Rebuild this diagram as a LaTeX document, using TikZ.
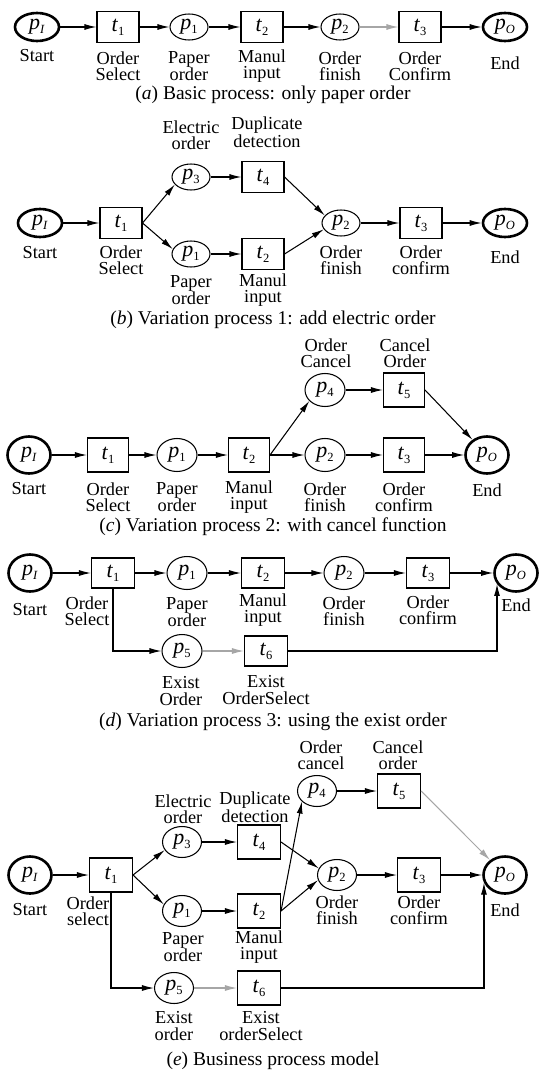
\documentclass[tikz,border=0pt]{standalone}
\usepackage{fontspec}
\setmainfont{Liberation Serif}
\usetikzlibrary{shapes.geometric,arrows.meta}
\newcommand\nl[2]{\textit{#1}\raisebox{-0.4ex}{\fontsize{12.5}{12.5}\selectfont #2}}
\begin{document}
\begin{tikzpicture}[x=1pt,y=-1pt,
  every node/.style={inner sep=0pt},
  nodefont/.style={font=\fontsize{22}{22}\selectfont},
  plA/.style={ellipse,draw,line width=1.05pt,minimum width=38pt,minimum height=26pt,nodefont},
  stA/.style={ellipse,draw,line width=2.6pt,minimum width=44pt,minimum height=28pt,nodefont},
  trA/.style={rectangle,draw,line width=1.05pt,minimum width=42pt,minimum height=31pt,nodefont},
  plC/.style={ellipse,draw,line width=1.05pt,minimum width=40pt,minimum height=33pt,nodefont},
  stC/.style={ellipse,draw,line width=2.6pt,minimum width=43pt,minimum height=37pt,nodefont},
  trC/.style={rectangle,draw,line width=1.05pt,minimum width=41pt,minimum height=34pt,nodefont},
  trD/.style={rectangle,draw,line width=1.05pt,minimum width=43pt,minimum height=30pt,nodefont},
  plE/.style={ellipse,draw,line width=1.05pt,minimum width=39pt,minimum height=31pt,nodefont},
  trE/.style={rectangle,draw,line width=1.05pt,minimum width=43pt,minimum height=34pt,nodefont},
  lab/.style={align=center,font=\fontsize{18.3}{16.5}\selectfont},
  capt/.style={font=\fontsize{19.5}{20}\selectfont},
  arr/.style={line width=1.05pt,-{Latex[length=12pt,width=6pt]}},
  garr/.style={arr,draw=black!35}
]
\path[use as bounding box] (0,0) rectangle (538,1070);

% ---------------- (a)
\node[stA] (aPI) at (37,27) {\nl{p}{\textit{I}}};
\node[trA] (aT1) at (118,27) {\nl{t}{1}};
\node[plA] (aP1) at (189,27) {\nl{p}{1}};
\node[trA] (aT2) at (262,27) {\nl{t}{2}};
\node[plA] (aP2) at (340,27) {\nl{p}{2}};
\node[trA] (aT3) at (420,27) {\nl{t}{3}};
\node[stA] (aPO) at (505,27) {\nl{p}{\textit{O}}};
\node[lab] (aLs) at (37,56) {Start};
\node[lab] (aL1) at (118,66) {Order\\Select};
\node[lab] (aL2) at (189,66) {Paper\\order};
\node[lab] (aL3) at (262,66) {Manul\\input};
\node[lab] (aL4) at (340,66) {Order\\finish};
\node[lab] (aL5) at (420,66) {Order\\Confirm};
\node[lab] (aLe) at (505,63) {End};
\node[capt] (aCap) at (273,95) {(\textit{a}) Basic process: only paper order};
\draw[arr] (aPI) -- (aT1);
\draw[arr] (aT1) -- (aP1);
\draw[arr] (aP1) -- (aT2);
\draw[arr] (aT2) -- (aP2);
\draw[garr] (aP2) -- (aT3);
\draw[arr] (aT3) -- (aPO);

% ---------------- (b)
\node[stA] (bPI) at (40,223) {\nl{p}{\textit{I}}};
\node[trA] (bT1) at (121,223) {\nl{t}{1}};
\node[plA] (bP3) at (191,177) {\nl{p}{3}};
\node[plA] (bP1) at (191,254) {\nl{p}{1}};
\node[trA] (bT4) at (263,177) {\nl{t}{4}};
\node[trA] (bT2) at (263,254) {\nl{t}{2}};
\node[plA] (bP2) at (341,223) {\nl{p}{2}};
\node[trA] (bT3) at (421,223) {\nl{t}{3}};
\node[stA] (bPO) at (505,223) {\nl{p}{\textit{O}}};
\node[lab] (bLa) at (191,135) {Electric\\order};
\node[lab] (bLb) at (267,132) {Duplicate\\detection};
\node[lab] (bLs) at (40,253) {Start};
\node[lab] (bL1) at (121,260) {Order\\Select};
\node[lab] (bL2) at (191,290) {Paper\\order};
\node[lab] (bL3) at (263,290) {Manul\\input};
\node[lab] (bL4) at (341,260) {Order\\finish};
\node[lab] (bL5) at (421,260) {Order\\confirm};
\node[lab] (bLe) at (505,257) {End};
\node[capt] (bCap) at (273,320) {(\textit{b}) Variation process 1: add electric order};
\draw[arr] (bPI) -- (bT1);
\draw[arr] (bT1.east) -- (bP3.205);
\draw[arr] (bT1.east) -- (bP1.165);
\draw[arr] (bP3) -- (bT4);
\draw[arr] (bP1) -- (bT2);
\draw[arr] (bT4.east) -- (bP2.155);
\draw[arr] (bT2.east) -- (bP2.200);
\draw[arr] (bP2) -- (bT3);
\draw[arr] (bT3) -- (bPO);

% ---------------- (c)
\node[stC] (cPI) at (29,455) {\nl{p}{\textit{I}}};
\node[trC] (cT1) at (108,455) {\nl{t}{1}};
\node[plC] (cP1) at (177,455) {\nl{p}{1}};
\node[trC] (cT2) at (249,455) {\nl{t}{2}};
\node[plC] (cP2) at (325,455) {\nl{p}{2}};
\node[trC] (cT3) at (404,455) {\nl{t}{3}};
\node[stC] (cPO) at (487,455) {\nl{p}{\textit{O}}};
\node[plC] (cP4) at (325,390) {\nl{p}{4}};
\node[trC] (cT5) at (404,390) {\nl{t}{5}};
\node[lab] (cLa) at (326,353) {Order\\Cancel};
\node[lab] (cLb) at (405,353) {Cancel\\Order};
\node[lab] (cLs) at (29,489) {Start};
\node[lab] (cL1) at (108,497) {Order\\Select};
\node[lab] (cL2) at (177,497) {Paper\\order};
\node[lab] (cL3) at (249,497) {Manul\\input};
\node[lab] (cL4) at (325,497) {Order\\finish};
\node[lab] (cL5) at (404,497) {Order\\confirm};
\node[lab] (cLe) at (487,490) {End};
\node[capt] (cCap) at (273,527) {(\textit{c}) Variation process 2: with cancel function};
\draw[arr] (cPI) -- (cT1);
\draw[arr] (cT1) -- (cP1);
\draw[arr] (cP1) -- (cT2);
\draw[arr] (cT2) -- (cP2);
\draw[arr] (cT2.east) -- (cP4.215);
\draw[arr] (cP4) -- (cT5);
\draw[arr] (cT5.east) -- (cPO);
\draw[arr] (cP2) -- (cT3);
\draw[arr] (cT3) -- (cPO);

% ---------------- (d)
\node[stC] (dPI) at (30,573) {\nl{p}{\textit{I}}};
\node[trD] (dT1) at (113,573) {\nl{t}{1}};
\node[plC] (dP1) at (187,573) {\nl{p}{1}};
\node[trD] (dT2) at (263,573) {\nl{t}{2}};
\node[plC] (dP2) at (344,573) {\nl{p}{2}};
\node[trD] (dT3) at (428,573) {\nl{t}{3}};
\node[stC] (dPO) at (516,573) {\nl{p}{\textit{O}}};
\node[plC] (dP5) at (182,651) {\nl{p}{5}};
\node[trD] (dT6) at (266,651) {\nl{t}{6}};
\node[lab] (dLs) at (30,610) {Start};
\node[lab] (dL1) at (87,611) {Order\\Select};
\node[lab] (dL2) at (187,612) {Paper\\order};
\node[lab] (dL3) at (263,610) {Manul\\input};
\node[lab] (dL4) at (344,611) {Order\\finish};
\node[lab] (dL5) at (428,610) {Order\\confirm};
\node[lab] (dLe) at (516,605) {End};
\node[lab] (dL6) at (181,691) {Exist\\Order};
\node[lab] (dL7) at (266,690) {Exist\\OrderSelect};
\node[capt] (dCap) at (273,722) {(\textit{d}) Variation process 3: using the exist order};
\draw[arr] (dPI) -- (dT1);
\draw[arr] (dT1) -- (dP1);
\draw[arr] (dP1) -- (dT2);
\draw[arr] (dT2) -- (dP2);
\draw[arr] (dP2) -- (dT3);
\draw[arr] (dT3) -- (dPO);
\draw[arr] (dT1.south) |- (dP5.west);
\draw[garr] (dP5) -- (dT6);
\draw[arr] (dT6.east) -| (dPO.210);

% ---------------- (e)
\node[stC] (ePI) at (30,875) {\nl{p}{\textit{I}}};
\node[trE] (eT1) at (111,875) {\nl{t}{1}};
\node[plE] (eP3) at (182,842) {\nl{p}{3}};
\node[plE] (eP1) at (182,911) {\nl{p}{1}};
\node[plE] (eP5) at (174,988) {\nl{p}{5}};
\node[trE] (eT4) at (259,842) {\nl{t}{4}};
\node[trE] (eT2) at (259,911) {\nl{t}{2}};
\node[trE] (eT6) at (259,988) {\nl{t}{6}};
\node[plE] (eP4) at (317,791) {\nl{p}{4}};
\node[trE] (eT5) at (399,791) {\nl{t}{5}};
\node[plE] (eP2) at (337,875) {\nl{p}{2}};
\node[trE] (eT3) at (419,875) {\nl{t}{3}};
\node[stC] (ePO) at (505,875) {\nl{p}{\textit{O}}};
\node[lab] (eLa) at (321,755) {Order\\cancel};
\node[lab] (eLb) at (398,755) {Cancel\\order};
\node[lab] (eLc) at (183,809) {Electric\\order};
\node[lab] (eLd) at (255,807) {Duplicate\\detection};
\node[lab] (eLs) at (30,910) {Start};
\node[lab] (eL1) at (88,911) {Order\\select};
\node[lab] (eL4) at (337,910) {Order\\finish};
\node[lab] (eL5) at (419,910) {Order\\confirm};
\node[lab] (eLe) at (505,910) {End};
\node[lab] (eL2) at (183,947) {Paper\\order};
\node[lab] (eL3) at (259,947) {Manul\\input};
\node[lab] (eL6) at (174,1026) {Exist\\order};
\node[lab] (eL7) at (261,1026) {Exist\\orderSelect};
\node[capt] (eCap) at (273,1061) {(\textit{e}) Business process model};
\draw[arr] (ePI) -- (eT1);
\draw[arr] (eT1.east) -- (eP3.205);
\draw[arr] (eT1.east) -- (eP1.160);
\draw[arr] (eP3) -- (eT4);
\draw[arr] (eP1) -- (eT2);
\draw[arr] (eT4.east) -- (eP2.160);
\draw[arr] (eT2.east) -- (eP2.195);
\draw[arr] (eT2.east) -- (eP4.215);
\draw[arr] (eP4) -- (eT5);
\draw[garr] (eT5.east) -- (ePO);
\draw[arr] (eP2) -- (eT3);
\draw[arr] (eT3) -- (ePO);
\draw[arr] (eT1.south) |- (eP5.west);
\draw[garr] (eP5) -- (eT6);
\draw[arr] (eT6.east) -| (ePO.200);
\end{tikzpicture}
\end{document}
